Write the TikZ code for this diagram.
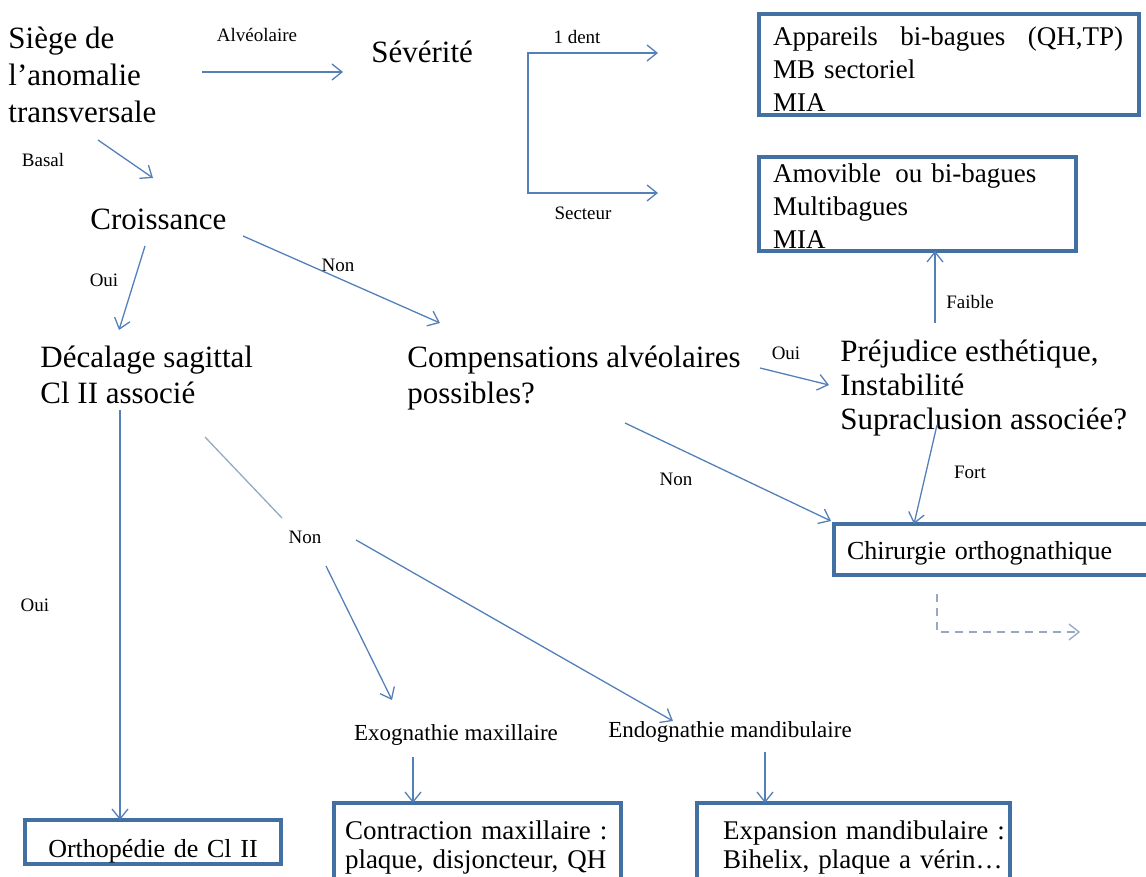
\documentclass[tikz,border=0pt]{standalone}
\usepackage{fontspec}
\setmainfont{Liberation Serif}
\usepackage{xcolor}
\usepackage{tikz}
\usetikzlibrary{arrows.meta, positioning, calc}

\definecolor{boxblue}{RGB}{66,112,162}
\definecolor{lineblue}{RGB}{84,128,185}
\definecolor{paleblue}{RGB}{150,168,195}

\begin{document}
\begin{tikzpicture}[x=0.5pt, y=-0.5pt,
    big/.style={align=left, inner sep=0pt, font=\fontsize{15.5}{18.5}\selectfont},
    box/.style={rectangle, draw=boxblue, line width=2pt, outer sep=0pt, inner ysep=0pt, align=left, anchor=north west, font=\fontsize{13.5}{16.5}\selectfont},
    mid/.style={inner sep=0pt, font=\fontsize{11.5}{13}\selectfont},
    lab/.style={inner sep=0pt, font=\fontsize{9.5}{11}\selectfont},
    line/.style={draw=lineblue, line width=0.65pt, -{Straight Barb[length=5pt,width=8pt]}},
    thin/.style={draw=paleblue, line width=0.65pt}]

    \useasboundingbox (0,0) rectangle (1146,877);
    \clip (0,0) rectangle (1146,877);

    % questions
    \node [big, anchor=north west] (siege) at (8,27) {Siège de\\l’anomalie\\transversale};
    \node [big, anchor=base west] (sev) at (371,63) {Sévérité};
    \node [big, anchor=base west] (crois) at (90,230) {Croissance};
    \node [big, anchor=north west, font=\fontsize{15.5}{18}\selectfont] (deca) at (40,346) {Décalage sagittal\\Cl II associé};
    \node [big, anchor=north west, font=\fontsize{15.5}{18}\selectfont] (comp) at (407,346) {Compensations alvéolaires\\possibles?};
    \node [big, anchor=north west, font=\fontsize{15.5}{17}\selectfont] (prej) at (840,340) {Préjudice esthétique,\\Instabilité\\Supraclusion associée?};
    \node [mid] (exo) at (456,735) {Exognathie maxillaire};
    \node [mid] (endo) at (730,732) {Endognathie mandibulaire};

    % traitements
    \node [box, inner xsep=7pt, text width=176pt, minimum height=50.5pt] (appa) at (759,14)
        {\rule{0pt}{14pt}Appareils\hspace{0.5em} bi-bagues\hspace{0.5em} (QH,TP)\\MB sectoriel\\MIA};
    \node [box, inner xsep=7pt, text width=144.5pt, minimum height=47pt] (amov) at (759,157)
        {\rule{0pt}{12pt}Amovible\hspace{0.2em} ou bi-bagues\\Multibagues\\MIA};
    \node [box, inner xsep=6.5pt, text width=187pt, minimum height=25.5pt, font=\fontsize{13}{15}\selectfont] (chir) at (834,524)
        {\rule{0pt}{13pt}Chirurgie orthognathique};
    \node [box, inner xsep=7pt, text width=114pt, minimum height=22pt, align=center, font=\fontsize{13}{15}\selectfont] (ortho) at (25,820)
        {\rule{0pt}{18.5pt}Orthopédie de Cl II};
    \node [box, inner xsep=5.5pt, text width=132.5pt, minimum height=45pt, font=\fontsize{13.5}{14.5}\selectfont] (contr) at (334,803)
        {\mbox{Contraction maxillaire :}\\\mbox{plaque, disjoncteur, QH}};
    \node [box, inner xsep=13pt, text width=130.5pt, minimum height=45pt, font=\fontsize{13.5}{14.5}\selectfont] (expa) at (697,803)
        {\mbox{Expansion mandibulaire :}\\\mbox{Bihelix, plaque a vérin…}};

    % labels
    \node [lab] (alv) at (257,35) {Alvéolaire};
    \node [lab] (basal) at (43,160) {Basal};
    \node [lab] (dent) at (577,37) {1 dent};
    \node [lab] (secteur) at (583,213) {Secteur};
    \node [lab] (oui1) at (104,280) {Oui};
    \node [lab] (non1) at (338,265) {Non};
    \node [lab] (oui2) at (786,353) {Oui};
    \node [lab] (faible) at (970,302) {Faible};
    \node [lab] (fort) at (970,472) {Fort};
    \node [lab] (non2) at (676,479) {Non};
    \node [lab] (oui3) at (35,605) {Oui};
    \node [lab] (nonb) at (305,537) {Non};

    % fleches
    \path [line] ([shift={(194,45)}]siege.north west) -- ([shift={(-28,9)}]sev.base west);
    \path [line] ([shift={(90,113)}]siege.north west) -- ([shift={(63,-52)}]crois.base west);
    \path [line, {Straight Barb[length=5pt,width=8pt]}-{Straight Barb[length=5pt,width=8pt]}]
        ([shift={(287,-10)}]sev.base west) -- ++(-130,0) -- ++(0,140) -- ++(130,0);
    \path [line] ([shift={(55,16)}]crois.base west) -- ([shift={(79,-16)}]deca.north west);
    \path [line] ([shift={(153,6)}]crois.base west) -- ([shift={(33,-23)}]comp.north west);
    \path [line] ([shift={(353,22)}]comp.north west) -- ([shift={(-11,45)}]prej.north west);
    \path [line] ([shift={(95,-17)}]prej.north west) -- ([xshift=88pt]amov.south west);
    \path [line] ([shift={(97,85)}]prej.north west) -- ([xshift=40pt]chir.north west);
    \path [line] ([shift={(218,77)}]comp.north west) -- ([shift={(-3,-3)}]chir.north west);
    \path [line, draw=paleblue, dashed, dash pattern=on 4pt off 3pt]
        ([shift={(103,70)}]chir.north west) -- ++(0,38) -- ++(143,0);
    \path [line] ([shift={(80,64)}]deca.north west) -- ([xshift=47.5pt]ortho.north west);
    \path [thin] ([shift={(165,91)}]deca.north west) -- ([shift={(-23,-19)}]nonb.center);
    \path [line] ([shift={(21,29)}]nonb.center) -- ([shift={(-64,-35)}]exo.center);
    \path [line] ([shift={(51,3)}]nonb.center) -- ([shift={(-57,-11)}]endo.center);
    \path [line] ([shift={(-43,22)}]exo.center) -- ([xshift=39.5pt]contr.north west);
    \path [line] ([shift={(35,20)}]endo.center) -- ([xshift=34pt]expa.north west);
\end{tikzpicture}
\end{document}
